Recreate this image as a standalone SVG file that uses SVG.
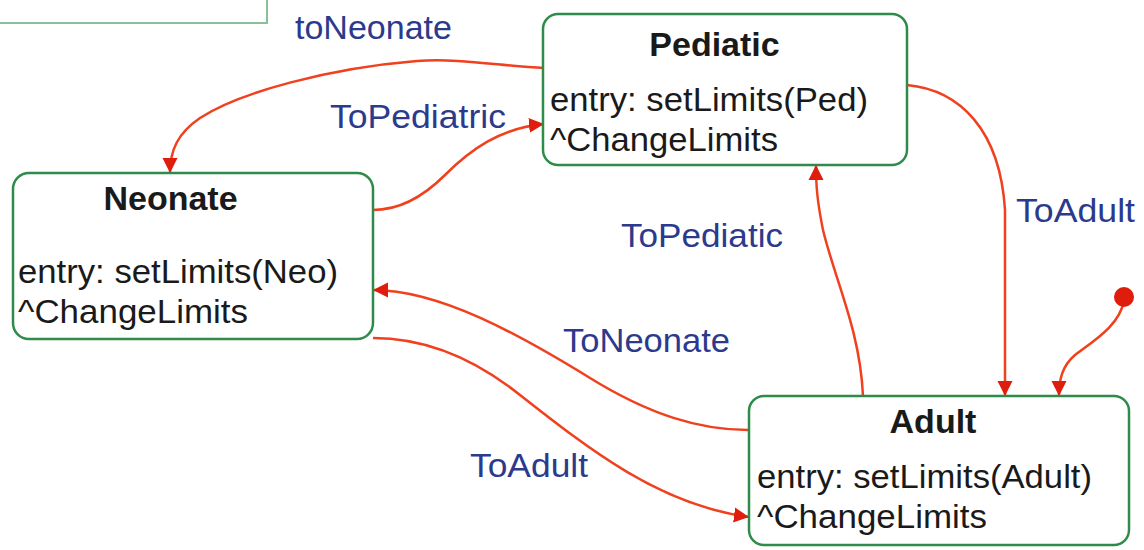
<svg xmlns="http://www.w3.org/2000/svg" width="1144" height="550" viewBox="0 0 1144 550">
  <style>
    .state { fill: #ffffff; stroke: #2e8b4a; stroke-width: 2.5; }
    .frame { fill: none; stroke: #8cbf98; stroke-width: 2; }
    .title { font-family: "Liberation Sans", Arial, sans-serif; font-size: 34px; font-weight: bold; fill: #1a1a1a; text-anchor: middle; }
    .body { font-family: "Liberation Sans", Arial, sans-serif; font-size: 34px; fill: #1a1a1a; }
    .label { font-family: "Liberation Sans", Arial, sans-serif; font-size: 34px; fill: #2b3a8c; }
    .edge { fill: none; stroke: #f0401e; stroke-width: 2.5; }
  </style>
  <defs>
    <marker id="arrow" markerUnits="userSpaceOnUse" markerWidth="16" markerHeight="16" refX="15" refY="8" orient="auto">
      <path d="M0,0.5 L15,8 L0,15.5 z" fill="#e01c0c"/>
    </marker>
  </defs>

  <rect width="1144" height="550" fill="#ffffff"/>

  <!-- enclosing frame, only its lower-right corner is on the sheet -->
  <path class="frame" d="M0,23 L267,23 L267,0"/>

  <!-- transitions -->
  <g id="connectors">
    <path class="edge" marker-end="url(#arrow)" d="M544,68 C500,66 460,58 417,61 C330,68 240,92 200,118 C178,133 170,150 170,173"/>
    <path class="edge" marker-end="url(#arrow)" d="M373,210 C395,210 420,200 445,175 C470,150 500,128 544,124"/>
    <path class="edge" marker-end="url(#arrow)" d="M907,85 C960,90 1000,130 1005,210 L1005,396"/>
    <path class="edge" marker-end="url(#arrow)" d="M863,396 C860,330 835,280 823,230 C817,200 816,185 816,165"/>
    <path class="edge" marker-end="url(#arrow)" d="M748,430 C700,430 650,415 590,378 C520,335 440,290 373,290"/>
    <path class="edge" marker-end="url(#arrow)" d="M373,338 C420,338 470,355 520,395 C590,450 660,505 749,517"/>
    <path class="edge" marker-end="url(#arrow)" d="M1124,300 C1120,325 1095,340 1075,355 C1062,366 1059,380 1059,396"/>
    <circle id="initial" cx="1124" cy="297" r="10" fill="#e01c0c"/>
  </g>

  <!-- transition labels -->
  <g id="labels">
    <text class="label" x="295" y="39" textLength="157" lengthAdjust="spacingAndGlyphs">toNeonate</text>
    <text class="label" x="330" y="128" textLength="176" lengthAdjust="spacingAndGlyphs">ToPediatric</text>
    <text class="label" x="1016" y="222" textLength="119" lengthAdjust="spacingAndGlyphs">ToAdult</text>
    <text class="label" x="621" y="247" textLength="162" lengthAdjust="spacingAndGlyphs">ToPediatic</text>
    <text class="label" x="563" y="352" textLength="167" lengthAdjust="spacingAndGlyphs">ToNeonate</text>
    <text class="label" x="470" y="477" textLength="118" lengthAdjust="spacingAndGlyphs">ToAdult</text>
  </g>

  <g id="pediatic">
    <rect class="state" x="543" y="14" width="364" height="151" rx="15"/>
    <text class="title" x="714.5" y="56">Pediatic</text>
    <text class="body" x="550" y="111" textLength="318" lengthAdjust="spacingAndGlyphs">entry: setLimits(Ped)</text>
    <text class="body" x="550" y="151" textLength="228" lengthAdjust="spacingAndGlyphs">^ChangeLimits</text>
  </g>

  <g id="neonate">
    <rect class="state" x="13" y="173" width="360" height="166" rx="16"/>
    <text class="title" x="170.5" y="210">Neonate</text>
    <text class="body" x="18" y="283" textLength="320" lengthAdjust="spacingAndGlyphs">entry: setLimits(Neo)</text>
    <text class="body" x="18" y="323" textLength="230" lengthAdjust="spacingAndGlyphs">^ChangeLimits</text>
  </g>

  <g id="adult">
    <rect class="state" x="749" y="396" width="380" height="149" rx="15"/>
    <text class="title" x="933" y="433">Adult</text>
    <text class="body" x="757" y="488" textLength="335" lengthAdjust="spacingAndGlyphs">entry: setLimits(Adult)</text>
    <text class="body" x="757" y="528" textLength="230" lengthAdjust="spacingAndGlyphs">^ChangeLimits</text>
  </g>
</svg>
